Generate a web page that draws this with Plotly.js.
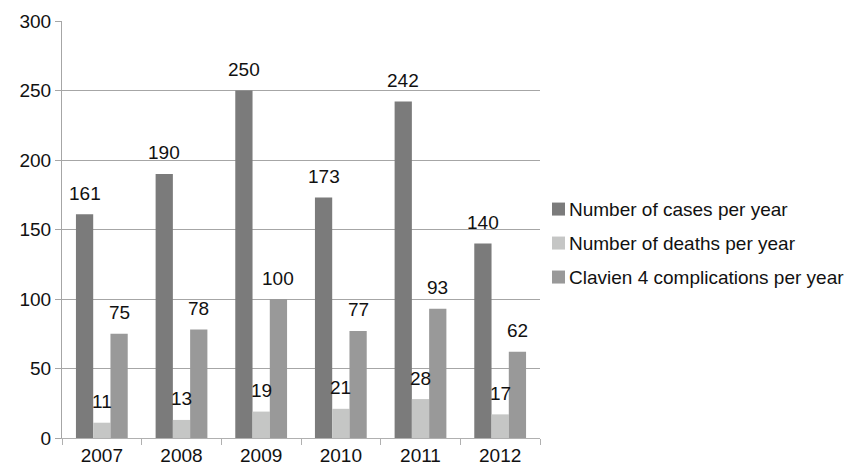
<!DOCTYPE html>
<html>
<head>
<meta charset="utf-8">
<script src="https://cdn.plot.ly/plotly-3.0.1.min.js"></script>
<style>
  html, body { margin: 0; padding: 0; background: #fff; }
  #chart { width: 859px; height: 471px; }
</style>
</head>
<body>
<div id="chart"></div>
<script>
// Yearly figures
const years = ['2007', '2008', '2009', '2010', '2011', '2012'];
const casesPerYear = [161, 190, 250, 173, 242, 140];
const deathsPerYear = [11, 13, 19, 21, 28, 17];
const clavien4PerYear = [75, 78, 100, 77, 93, 62];

const seriesNames = [
  'Number of cases per year',
  'Number of deaths per year',
  'Clavien 4 complications per year'
];
const seriesValues = [casesPerYear, deathsPerYear, clavien4PerYear];
const seriesColors = ['#7b7b7b', '#c5c6c5', '#999999'];

const BAR_GAP = 0.35;
const FONT = 'Liberation Sans, Arial, Helvetica, sans-serif';
const TEXT_COLOR = '#111111';
const FONT_SIZE = 19;

const traces = seriesValues.map((vals, k) => ({
  type: 'bar',
  name: seriesNames[k],
  x: years,
  y: vals,
  marker: { color: seriesColors[k], line: { width: 0 } },
  hoverinfo: 'skip',
  showlegend: false
}));

// Value labels sit a little above each bar, centred on the bar
const barWidth = (1 - BAR_GAP) / seriesValues.length;
const annotations = [];
seriesValues.forEach((vals, k) => {
  const offset = (k - (seriesValues.length - 1) / 2) * barWidth;
  vals.forEach((v, i) => {
    annotations.push({
      x: i + offset,
      y: v,
      xref: 'x',
      yref: 'y',
      text: String(v),
      showarrow: false,
      xanchor: 'center',
      yanchor: 'middle',
      yshift: 21,
      font: { family: FONT, size: FONT_SIZE, color: TEXT_COLOR }
    });
  });
});

// Legend on the right: small square swatch followed by the series name
const shapes = [];
const legendTop = 0.549;   // paper y of first entry
const legendStep = 0.0815; // paper distance between entries
seriesNames.forEach((name, k) => {
  const yc = legendTop - k * legendStep;
  shapes.push({
    type: 'rect',
    xref: 'paper', yref: 'paper',
    xsizemode: 'pixel', ysizemode: 'pixel',
    xanchor: 1, yanchor: yc,
    x0: 12, x1: 25, y0: -6.5, y1: 6.5,
    fillcolor: seriesColors[k],
    line: { width: 0 }
  });
  annotations.push({
    xref: 'paper', yref: 'paper',
    x: 1, y: yc,
    xshift: 27,
    xanchor: 'left', yanchor: 'middle',
    text: name,
    showarrow: false,
    font: { family: FONT, size: FONT_SIZE, color: TEXT_COLOR }
  });
});

const layout = {
  width: 859,
  height: 471,
  margin: { l: 62, r: 319, t: 21, b: 33 },
  paper_bgcolor: '#ffffff',
  plot_bgcolor: '#ffffff',
  font: { family: FONT, size: FONT_SIZE, color: TEXT_COLOR },
  barmode: 'group',
  bargap: BAR_GAP,
  bargroupgap: 0,
  showlegend: false,
  xaxis: {
    type: 'category',
    showline: true,
    linecolor: '#b0b0b0',
    linewidth: 1,
    ticks: 'outside',
    tickson: 'boundaries',
    ticklen: 6,
    tickcolor: '#b0b0b0',
    showgrid: false,
    tickfont: { family: FONT, size: FONT_SIZE, color: TEXT_COLOR },
    fixedrange: true
  },
  yaxis: {
    range: [0, 300],
    dtick: 50,
    showline: true,
    linecolor: '#a6a6a6',
    linewidth: 1,
    ticks: 'outside',
    ticklen: 6,
    tickcolor: '#a6a6a6',
    showgrid: true,
    gridcolor: '#a6a6a6',
    gridwidth: 1,
    zeroline: false,
    tickfont: { family: FONT, size: FONT_SIZE, color: TEXT_COLOR },
    fixedrange: true
  },
  shapes: shapes,
  annotations: annotations
};

Plotly.newPlot('chart', traces, layout, { displayModeBar: false, staticPlot: true });
</script>
</body>
</html>
